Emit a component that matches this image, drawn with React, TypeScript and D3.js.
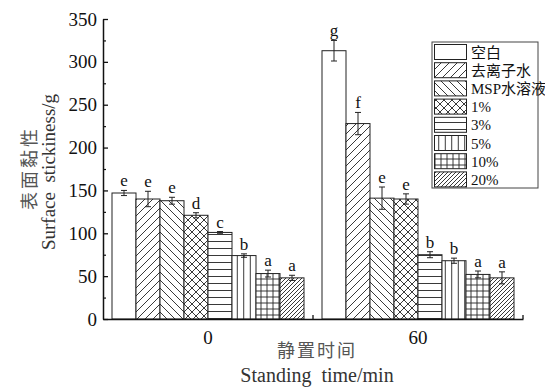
import React, { useEffect, useRef } from 'react';
import * as d3 from 'd3';

// standing time groups
const groups = ['0', '60'];
const series = ['空白', '去离子水', 'MSP水溶液', '1%', '3%', '5%', '10%', '20%'];
const values0 = [147, 140, 138, 121, 101, 74, 53, 48];
const values60 = [313, 228, 141, 140, 75, 68, 52, 48];
const errors0 = [3, 9, 4, 3, 1, 2, 4, 3];
const errors60 = [12, 13, 13, 6, 3.5, 3, 4, 7];
const letters0 = ['e', 'e', 'e', 'd', 'c', 'b', 'a', 'a'];
const letters60 = ['g', 'f', 'e', 'e', 'b', 'b', 'a', 'a'];
const yTicks = [0, 50, 100, 150, 200, 250, 300, 350];
const yMinorTicks = [25, 75, 125, 175, 225, 275, 325];

const FONT = "'Liberation Serif', 'Noto Sans CJK SC', serif";

const App = () => {
  const ref = useRef<SVGSVGElement | null>(null);

  useEffect(() => {
    const width = 545;
    const height = 389;
    const svg = d3.select(ref.current);
    svg.selectAll('*').remove();
    svg.attr('width', width).attr('height', height).style('background', '#fff');

    const x0 = d3.scaleBand().domain(groups).range([103, 523]).padding(0);
    const x1 = d3.scaleBand().domain(series).range([0, x0.bandwidth()])
      .paddingInner(0).paddingOuter(0.375);
    const y = d3.scaleLinear().domain([0, 350]).range([319, 19]);

    // hatch patterns
    const defs = svg.append('defs');
    const makePattern = (id, size, draw) => {
      const p = defs.append('pattern').attr('id', id)
        .attr('patternUnits', 'userSpaceOnUse')
        .attr('width', size).attr('height', size);
      p.append('rect').attr('width', size).attr('height', size).attr('fill', '#fff');
      draw(p, size);
    };
    const line = (p, d) => p.append('path').attr('d', d)
      .attr('stroke', '#222').attr('stroke-width', 0.9).attr('fill', 'none');

    makePattern('p0', 8, () => {});
    makePattern('p1', 8, (p, s) => line(p, `M0,${s} L${s},0 M-2,2 L2,-2 M${s - 2},${s + 2} L${s + 2},${s - 2}`));
    makePattern('p2', 8, (p, s) => line(p, `M0,0 L${s},${s} M-2,${s - 2} L2,${s + 2} M${s - 2},-2 L${s + 2},2`));
    makePattern('p3', 8, (p, s) => line(p, `M0,${s} L${s},0 M0,0 L${s},${s} M-2,2 L2,-2 M${s - 2},${s + 2} L${s + 2},${s - 2} M-2,${s - 2} L2,${s + 2} M${s - 2},-2 L${s + 2},2`));
    makePattern('p4', 7, (p, s) => line(p, `M0,${s / 2} L${s},${s / 2}`));
    makePattern('p5', 6.5, (p, s) => line(p, `M${s / 2},0 L${s / 2},${s}`));
    makePattern('p6', 6, (p, s) => line(p, `M${s / 2},0 L${s / 2},${s} M0,${s / 2} L${s},${s / 2}`));
    makePattern('p7', 4, (p, s) => line(p, `M0,${s} L${s},0 M-1,1 L1,-1 M${s - 1},${s + 1} L${s + 1},${s - 1}`));

    const data = [
      { group: '0', values: values0, errors: errors0, letters: letters0 },
      { group: '60', values: values60, errors: errors60, letters: letters60 },
    ];

    data.forEach(g => {
      const gx = x0(g.group);
      series.forEach((s, i) => {
        const bx = gx + x1(s);
        const bw = x1.bandwidth();
        const v = g.values[i];
        svg.append('rect')
          .attr('x', bx).attr('y', y(v))
          .attr('width', bw).attr('height', y(0) - y(v))
          .attr('fill', `url(#p${i})`)
          .attr('stroke', '#222').attr('stroke-width', 1);

        const cx = bx + bw / 2;
        const e = g.errors[i];
        svg.append('path')
          .attr('d', `M${cx},${y(v + e)} L${cx},${y(v - e)} M${cx - 3},${y(v + e)} L${cx + 3},${y(v + e)} M${cx - 3},${y(v - e)} L${cx + 3},${y(v - e)}`)
          .attr('stroke', '#222').attr('stroke-width', 1).attr('fill', 'none');

        svg.append('text')
          .attr('x', cx).attr('y', y(v + e) - 4)
          .attr('text-anchor', 'middle')
          .attr('font-family', FONT).attr('font-size', 17)
          .attr('fill', '#111')
          .text(g.letters[i]);
      });
    });

    // y axis
    const yAxis = svg.append('g').attr('transform', 'translate(103,0)')
      .call(d3.axisLeft(y).tickValues(yTicks).tickSizeInner(-5).tickSizeOuter(0).tickPadding(6));
    yAxis.selectAll('text').attr('font-family', FONT).attr('font-size', 19).attr('fill', '#111');
    yAxis.select('.domain').attr('stroke', '#111').attr('stroke-width', 1.5);
    yAxis.selectAll('line').attr('stroke', '#111').attr('stroke-width', 1.3);
    svg.append('g').attr('transform', 'translate(103,0)')
      .call(d3.axisLeft(y).tickValues(yMinorTicks).tickSizeInner(-3).tickSizeOuter(0).tickFormat(() => ''))
      .call(g => g.select('.domain').remove())
      .selectAll('line').attr('stroke', '#111').attr('stroke-width', 1.2);

    // x axis
    const xAxis = svg.append('g').attr('transform', `translate(0,${y(0)})`)
      .call(d3.axisBottom(x0).tickSize(0).tickPadding(12));
    xAxis.selectAll('text').attr('font-family', FONT).attr('font-size', 19).attr('fill', '#111');
    xAxis.select('.domain').attr('stroke', '#111').attr('stroke-width', 1.5);
    groups.forEach(gr => {
      const bx = x0(gr) + x0.bandwidth();
      svg.append('line')
        .attr('x1', bx).attr('x2', bx).attr('y1', y(0)).attr('y2', y(0) - 4)
        .attr('stroke', '#111').attr('stroke-width', 1.3);
    });

    // axis titles
    svg.append('text')
      .attr('transform', 'translate(30,168) rotate(-90)')
      .attr('text-anchor', 'middle').attr('dominant-baseline', 'central')
      .attr('font-family', FONT).attr('font-size', 18).attr('letter-spacing', 3)
      .attr('fill', '#555')
      .text('表面黏性');
    svg.append('text')
      .attr('transform', 'translate(48,172) rotate(-90)')
      .attr('text-anchor', 'middle').attr('dominant-baseline', 'central')
      .attr('font-family', FONT).attr('font-size', 19)
      .attr('fill', '#333')
      .attr('xml:space', 'preserve')
      .text('Surface  stickiness/g');
    svg.append('text')
      .attr('x', 317).attr('y', 357)
      .attr('text-anchor', 'middle')
      .attr('font-family', FONT).attr('font-size', 18).attr('letter-spacing', 2)
      .attr('fill', '#555')
      .text('静置时间');
    svg.append('text')
      .attr('x', 317).attr('y', 382)
      .attr('text-anchor', 'middle')
      .attr('font-family', FONT).attr('font-size', 20)
      .attr('fill', '#333')
      .attr('xml:space', 'preserve')
      .text('Standing  time/min');

    // legend
    const legend = svg.append('g');
    legend.append('rect')
      .attr('x', 432).attr('y', 42).attr('width', 106).attr('height', 146)
      .attr('fill', '#fff').attr('stroke', '#444').attr('stroke-width', 1);
    series.forEach((s, i) => {
      const ly = 44.5 + i * 18.2;
      legend.append('rect')
        .attr('x', 434.5).attr('y', ly).attr('width', 32).attr('height', 15)
        .attr('fill', `url(#p${i})`).attr('stroke', '#222').attr('stroke-width', 1);
      legend.append('text')
        .attr('x', 471).attr('y', ly + 13)
        .attr('font-family', FONT).attr('font-size', 15)
        .attr('fill', '#111')
        .text(s);
    });
  }, []);

  return <svg ref={ref} style={{ position: 'absolute', left: 0, top: 0 }}></svg>;
};

export default App;
